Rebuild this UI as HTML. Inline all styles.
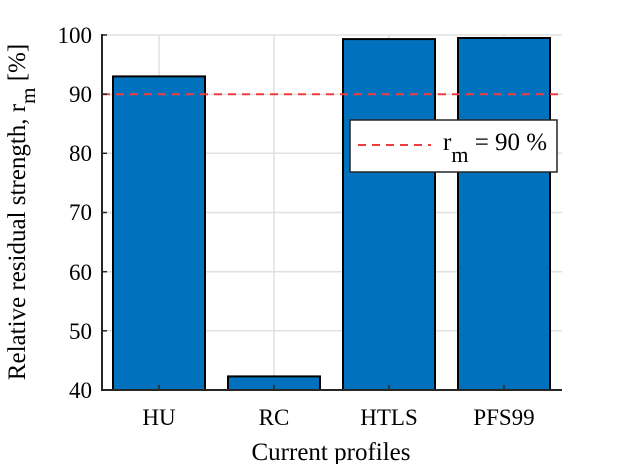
<!DOCTYPE html>
<html><head><meta charset="utf-8"><style>html,body{margin:0;padding:0;background:#fff}</style></head>
<body>
<svg width="620" height="464" xmlns="http://www.w3.org/2000/svg" font-family="Liberation Serif, serif">
<rect width="620" height="464" fill="#fff"/>
<g stroke="#e0e0e0" stroke-width="1.5">
<line x1="102" y1="35" x2="562" y2="35"/>
<line x1="102" y1="94.2" x2="562" y2="94.2"/>
<line x1="102" y1="153.3" x2="562" y2="153.3"/>
<line x1="102" y1="212.5" x2="562" y2="212.5"/>
<line x1="102" y1="271.7" x2="562" y2="271.7"/>
<line x1="102" y1="330.8" x2="562" y2="330.8"/>
<line x1="159" y1="35" x2="159" y2="390"/>
<line x1="274" y1="35" x2="274" y2="390"/>
<line x1="389" y1="35" x2="389" y2="390"/>
<line x1="504" y1="35" x2="504" y2="390"/>
</g>
<g fill="#0072bd" stroke="#000" stroke-width="2">
<rect x="113" y="76.4" width="92" height="313.6"/>
<rect x="228" y="376.4" width="92" height="13.6"/>
<rect x="343" y="39.1" width="92" height="350.9"/>
<rect x="458" y="38" width="92" height="352"/>
</g>
<line x1="102" y1="94.2" x2="562" y2="94.2" stroke="#f03c3c" stroke-width="2" stroke-dasharray="8,6"/>
<g stroke="#262626" stroke-width="2" fill="none">
<line x1="102" y1="34" x2="102" y2="391"/>
<line x1="101" y1="390" x2="562" y2="390"/>
<g stroke-width="1.5">
<line x1="102" y1="35" x2="107" y2="35"/><line x1="102" y1="94.2" x2="107" y2="94.2"/>
<line x1="102" y1="153.3" x2="107" y2="153.3"/><line x1="102" y1="212.5" x2="107" y2="212.5"/>
<line x1="102" y1="271.7" x2="107" y2="271.7"/><line x1="102" y1="330.8" x2="107" y2="330.8"/>
<line x1="159" y1="390" x2="159" y2="385"/><line x1="274" y1="390" x2="274" y2="385"/>
<line x1="389" y1="390" x2="389" y2="385"/><line x1="504" y1="390" x2="504" y2="385"/>
</g></g>
<g font-size="23" fill="#000" text-anchor="end">
<text x="92" y="43">100</text><text x="92" y="102">90</text><text x="92" y="161">80</text>
<text x="92" y="220">70</text><text x="92" y="280">60</text><text x="92" y="339">50</text><text x="92" y="398">40</text>
</g>
<g font-size="23" fill="#000" text-anchor="middle">
<text x="159" y="425">HU</text><text x="274" y="425">RC</text><text x="389" y="425">HTLS</text><text x="504" y="425">PFS99</text>
<text x="331" y="460" font-size="25">Current profiles</text>
</g>
<text transform="translate(25,212) rotate(-90)" font-size="25" text-anchor="middle" fill="#000">Relative residual strength, r<tspan font-size="21" dy="10">m</tspan><tspan dy="-10"> [%]</tspan></text>
<rect x="350" y="120" width="207" height="52" fill="#fff" stroke="#262626" stroke-width="1.5"/>
<line x1="358" y1="145" x2="431" y2="145" stroke="#f03c3c" stroke-width="2" stroke-dasharray="8,6"/>
<text x="443" y="150" font-size="25" fill="#000">r<tspan font-size="22" dy="12">m</tspan><tspan dy="-12"> = 90 %</tspan></text>
</svg>
</body></html>
